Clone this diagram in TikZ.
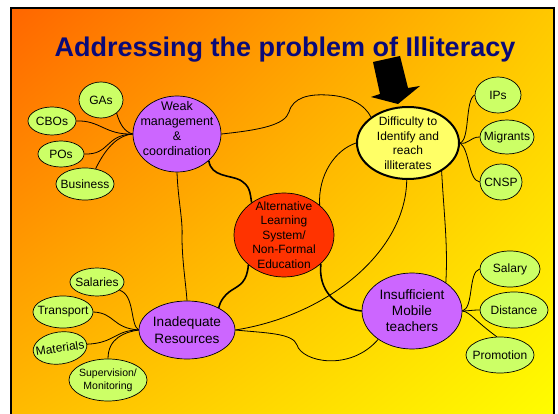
\documentclass[tikz,border=0pt]{standalone}
\usepackage{fontspec}
\setmainfont{Liberation Sans}
\usetikzlibrary{shapes.geometric,shadings}
\definecolor{hubpurple}{RGB}{204,102,255}
\definecolor{satgreen}{RGB}{204,255,102}
\definecolor{corered}{RGB}{255,51,0}
\definecolor{reachyellow}{RGB}{255,255,102}
\definecolor{titleblue}{RGB}{10,10,120}
\definecolor{bgul}{RGB}{255,102,0}
\definecolor{bgur}{RGB}{255,200,0}
\definecolor{bgll}{RGB}{255,190,0}
\definecolor{bglr}{RGB}{255,255,0}
\begin{document}
\begin{tikzpicture}[x=1pt,y=-1pt,line width=0.8pt,
		blob/.style={ellipse,draw,inner sep=-12pt,align=center,line width=0.7pt},
		sat/.style={blob,fill=satgreen,font=\fontsize{12}{14}\selectfont},
		hub/.style={blob,fill=hubpurple},
		strong/.style={line width=1.6pt}]
		\useasboundingbox (0,0) rectangle (558,414);
		\clip (0,0) rectangle (558,414);
		\fill[white] (0,0) rectangle (558,414);
		\shade[upper left=bgul,upper right=bgur,lower left=bgll,lower right=bglr] (11,8) rectangle (554,430);
		\draw[line width=1.6pt] (11,8) rectangle (554,430);
		\node[anchor=base,text=titleblue,font=\fontsize{27}{30}\bfseries] (title) at (285,57) {Addressing the problem of Illiteracy};
		% the black arrow
		\fill (373,62) -- (400,56) -- (408,88) -- (420,86) -- (398,104) -- (371,97) -- (380,94) -- cycle;
		% main nodes
		\node[hub,minimum width=88pt,minimum height=76pt,font=\fontsize{12.5}{15}\selectfont] (weak) at (177,134) {Weak\\management\\\&\\coordination\\[-3pt]\mbox{}};
		\node[blob,fill=corered,minimum width=100pt,minimum height=84pt,font=\fontsize{12}{14.5}\selectfont] (alt) at (284,235) {Alternative\\Learning\\System/\\Non-Formal\\Education};
		\node[blob,fill=reachyellow,line width=2pt,minimum width=102pt,minimum height=72pt,font=\fontsize{12}{14.5}\selectfont] (diff) at (408,143) {Difficulty to\\Identify and\\reach\\illiterates};
		\node[hub,minimum width=100pt,minimum height=76pt,font=\fontsize{13.6}{16}\selectfont] (ins) at (412,311) {Insufficient\\Mobile\\teachers};
		\node[hub,minimum width=96pt,minimum height=58pt,font=\fontsize{13.6}{16.5}\selectfont] (inad) at (187,330) {Inadequate\\Resources};
		% satellites
		\node[sat,minimum width=44pt,minimum height=36pt] (gas) at (101,100) {GAs};
		\node[sat,minimum width=48pt,minimum height=28pt] (cbos) at (52,121) {CBOs};
		\node[sat,minimum width=46pt,minimum height=26pt] (pos) at (61,154) {POs};
		\node[sat,minimum width=58pt,minimum height=32pt] (bus) at (85,184) {Business};
		\node[sat,minimum width=46pt,minimum height=36pt] (ips) at (498,95) {IPs};
		\node[sat,minimum width=54pt,minimum height=34pt] (mig) at (507,137) {Migrants};
		\node[sat,minimum width=42pt,minimum height=36pt] (cnsp) at (501,182) {CNSP};
		\node[sat,minimum width=60pt,minimum height=36pt] (salary) at (510,269) {Salary};
		\node[sat,minimum width=68pt,minimum height=36pt] (dist) at (514,310) {Distance};
		\node[sat,minimum width=68pt,minimum height=36pt] (promo) at (500,355) {Promotion};
		\node[sat,minimum width=54pt,minimum height=28pt] (sal) at (97,282) {Salaries};
		\node[sat,minimum width=60pt,minimum height=32pt] (trans) at (63,312) {Transport};
		\node[sat,minimum width=54pt,minimum height=32pt,rotate=8] (mat) at (60,348) {Materials};
		\node[sat,minimum width=78pt,minimum height=42pt,font=\fontsize{10.5}{13}\selectfont] (sup) at (108,380) {Supervision/\\Monitoring};
		% links between the main nodes
		\draw (weak.east) .. controls (260,130) and (285,125) .. (289,112) .. controls (293,97) and (310,94) .. (327,95) .. controls (350,96) and (365,105) .. (diff.145);
		\draw[strong] (weak.-40) .. controls (211,177) and (230,175) .. (240,180) .. controls (250,186) and (250,192) .. (alt.135);
		\draw (weak.south) .. controls (178,200) and (183,220) .. (182,237) .. controls (182,260) and (186,285) .. (inad.north);
		\draw[strong] (alt.-140) .. controls (247,282) and (240,285) .. (232,290) .. controls (224,295) and (220,302) .. (inad.35);
		\draw (alt.40) .. controls (318,175) and (335,150) .. (diff.west);
		\draw[strong] (alt.-38) .. controls (318,290) and (335,308) .. (ins.west);
		\draw (diff.-92) .. controls (406,250) and (330,315) .. (inad.east);
		\draw (diff.-40) .. controls (444,215) and (448,245) .. (ins.40);
		\draw (inad.east) .. controls (265,333) and (293,333) .. (297,345) .. controls (302,362) and (350,372) .. (ins.-140);
		% satellite links
		\draw (gas.-40) .. controls (120,125) and (125,132) .. (weak.west);
		\draw (cbos.east) .. controls (100,120) and (105,135) .. (weak.west);
		\draw (pos.east) .. controls (110,155) and (105,135) .. (weak.west);
		\draw (bus.55) .. controls (107,145) and (120,135) .. (weak.west);
		\draw (ips.west) .. controls (465,100) and (470,140) .. (diff.east);
		\draw (mig.west) .. controls (470,137) and (468,145) .. (diff.east);
		\draw (cnsp.west) .. controls (468,180) and (470,150) .. (diff.east);
		\draw (salary.west) .. controls (468,272) and (474,308) .. (ins.east);
		\draw (dist.west) .. controls (472,310) and (468,311) .. (ins.east);
		\draw (promo.100) .. controls (474,320) and (470,312) .. (ins.east);
		\draw (sal.-20) .. controls (135,295) and (130,325) .. (inad.west);
		\draw (trans.east) .. controls (115,313) and (112,328) .. (inad.west);
		\draw (mat.east) .. controls (115,343) and (115,330) .. (inad.west);
		\draw (sup.north) .. controls (108,338) and (125,332) .. (inad.west);
	\end{tikzpicture}
\end{document}
